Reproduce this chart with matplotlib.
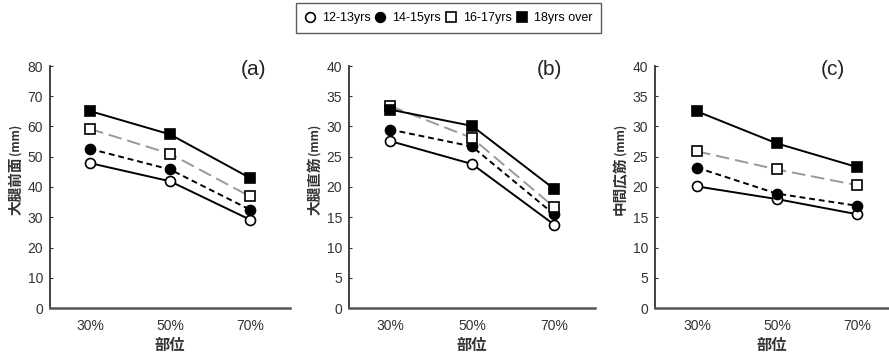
import matplotlib
matplotlib.use("Agg")
import matplotlib.pyplot as plt
import matplotlib.transforms as mtransforms
from matplotlib.lines import Line2D

plt.rcParams['font.family'] = ['Liberation Sans', 'Noto Sans CJK JP', 'DejaVu Sans']

positions = ["30%", "50%", "70%"]
groups = ["12-13yrs", "14-15yrs", "16-17yrs", "18yrs over"]

# panel (a) 大腿前面
a_12 = [47.9, 41.9, 29.2]
a_14 = [52.6, 45.8, 32.5]
a_16 = [59.2, 51.0, 36.9]
a_18 = [65.1, 57.4, 43.0]
# panel (b) 大腿直筋
b_12 = [27.6, 23.8, 13.8]
b_14 = [29.5, 26.7, 15.5]
b_16 = [33.4, 28.1, 16.7]
b_18 = [32.8, 30.1, 19.7]
# panel (c) 中間広筋
c_12 = [20.1, 18.0, 15.5]
c_14 = [23.2, 18.9, 16.9]
c_16 = [25.9, 22.9, 20.3]
c_18 = [32.5, 27.2, 23.3]

panels = [
    ("(a)", "大腿前面", [a_12, a_14, a_16, a_18], 80, 10),
    ("(b)", "大腿直筋", [b_12, b_14, b_16, b_18], 40, 5),
    ("(c)", "中間広筋", [c_12, c_14, c_16, c_18], 40, 5),
]

styles = [
    dict(color="black", ls="-", marker="o", mfc="white", mec="black"),
    dict(color="black", ls=(0, (3, 2)), marker="o", mfc="black", mec="black"),
    dict(color="#999999", ls=(0, (7, 3)), marker="s", mfc="white", mec="black"),
    dict(color="black", ls="-", marker="s", mfc="black", mec="black"),
]

W, H = 889, 356
fig = plt.figure(figsize=(W / 100, H / 100), dpi=100)

boxes = [(50, 290, (-0.5, 2.5), 2.04), (349, 595, (-0.5, 2.5), 1.94), (655, 889, (-0.525, 2.4), 1.7)]
bottom_px, top_px = 308, 66

for (lab, name, series, ymax, step), (l, r, xl, labx) in zip(panels, boxes):
    ax = fig.add_axes([l / W, 1 - bottom_px / H, (r - l) / W, (bottom_px - top_px) / H])
    x = list(range(len(positions)))
    for vals, st in zip(series, styles):
        ax.plot(x, vals, color=st["color"], ls=st["ls"], lw=1.4, marker=st["marker"],
                ms=7.2, mfc=st["mfc"], mec=st["mec"], mew=1.2)
    ax.set_xlim(*xl)
    ax.set_ylim(0, ymax)
    ax.set_yticks(range(0, ymax + 1, step))
    ax.set_xticks(x)
    ax.set_xticklabels(positions)
    ax.spines["top"].set_visible(False)
    ax.spines["right"].set_visible(False)
    ax.spines["left"].set_color("#333333")
    ax.spines["bottom"].set_color("#555555")
    ax.spines["left"].set_linewidth(1.3)
    ax.spines["bottom"].set_linewidth(1.8)
    ax.tick_params(axis="y", direction="in", length=2, labelsize=10, colors="#333333", pad=5)
    ax.tick_params(axis="x", length=0, labelsize=10, colors="#333333", pad=8)
    ax.set_xlabel("部位", fontsize=11, family=['Noto Sans CJK JP'], color="#333333",
                  labelpad=3, fontweight="bold")
    # y label: name plus small (mm)
    t1 = fig.text((l - 35) / W, 1 - 215 / H, name, rotation=90, ha="center", va="bottom",
                  fontsize=10.5, family=['Noto Sans CJK JP'], color="#333333", fontweight="bold")
    ax.annotate("(mm)", xy=(0.5, 1.0), xycoords=t1, xytext=(0, 1), textcoords="offset points",
                rotation=90, ha="center", va="bottom", fontsize=8.5,
                family=['Noto Sans CJK JP'], color="#333333", fontweight="bold",
                annotation_clip=False)
    tr = mtransforms.blended_transform_factory(ax.transData, ax.transAxes)
    ax.text(labx, 0.985, lab, transform=tr, fontsize=15, ha="center", va="center",
            color="#222222")

handles = [Line2D([], [], ls="none", marker=st["marker"], ms=7, mfc=st["mfc"], mec="black", mew=1.2)
           for st in styles]
fig.legend(handles, groups, loc="center", bbox_to_anchor=(448.5 / W, 1 - 18 / H), ncol=4,
           frameon=True, fancybox=False, edgecolor="#333333", fontsize=9,
           handletextpad=0.55, columnspacing=0.4, handlelength=0.8, borderpad=0.7)

fig.savefig("out.png", dpi=100)
